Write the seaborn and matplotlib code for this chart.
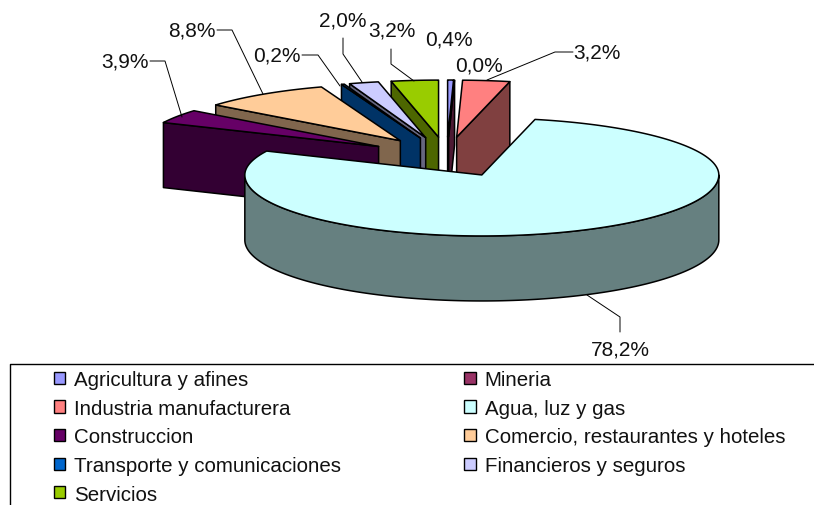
import numpy as np
import matplotlib
matplotlib.use("Agg")
import matplotlib.pyplot as plt
from matplotlib.patches import Patch
import seaborn as sns

categories = ["Agricultura y afines", "Mineria", "Industria manufacturera", "Agua, luz y gas",
              "Construccion", "Comercio, restaurantes y hoteles", "Transporte y comunicaciones",
              "Financieros y seguros", "Servicios"]
values = [0.4, 0.0, 3.2, 78.2, 3.9, 8.8, 0.2, 2.0, 3.2]
colors = ["#9999FF", "#993366", "#FF8080", "#CCFFFF", "#660066", "#FFCC99", "#0066CC", "#CCCCFF", "#99CC00"]

sns.set_theme(style="white")
plt.rcParams["font.family"] = ["Liberation Sans", "DejaVu Sans"]

W, H = 814, 506
fig = plt.figure(figsize=(W / 100, H / 100), dpi=100)
ax = fig.add_axes([0, 0, 1, 1])
ax.set_xlim(0, W)
ax.set_ylim(H, 0)
ax.axis("off")

# Pie projection, in pixels of the axes
CX, CY = 446.6, 158.0
RX, RY_FRONT, RY_BACK = 237.0, 61.0, 57.0
EXPLODE_X, EXPLODE_Y = 80.0, 20.0
DEPTH = 65.0
LW = 1.1


def project(apex, t):
    t = np.asarray(t, dtype=float)
    ry = np.where(np.cos(t) > 0, RY_BACK, RY_FRONT)
    return apex[0] + RX * np.sin(t), apex[1] - ry * np.cos(t)


def darker(c):
    return tuple(v * 0.5 for v in matplotlib.colors.to_rgb(c))


total = sum(values)
ends = np.cumsum(values) / total * 2 * np.pi
starts = np.concatenate([[0.0], ends[:-1]])


def draw_slice(i):
    t0, t1 = starts[i], ends[i]
    mid = (t0 + t1) / 2
    apex = (CX + EXPLODE_X * np.sin(mid), CY - EXPLODE_Y * np.cos(mid))
    side = darker(colors[i])
    kw = dict(edgecolor="black", linewidth=LW, joinstyle="round")
    # Radial walls facing the viewer
    for t, visible in ((t0, np.sin(t0) < -1e-6), (t1, np.sin(t1) > 1e-6)):
        if visible:
            x, y = project(apex, t)
            ax.fill([apex[0], x, x, apex[0]], [apex[1], y, y + DEPTH, apex[1] + DEPTH],
                    facecolor=side, **kw)
    # Outer rim on the front half
    a, b = max(t0, np.pi / 2), min(t1, 3 * np.pi / 2)
    if b > a:
        ts = np.linspace(a, b, 200)
        x, y = project(apex, ts)
        ax.fill(np.r_[x, x[::-1]], np.r_[y, (y + DEPTH)[::-1]], facecolor=side, **kw)
    # Top face
    ts = np.linspace(t0, t1, 200)
    x, y = project(apex, ts)
    ax.fill(np.r_[apex[0], x], np.r_[apex[1], y], facecolor=colors[i], **kw)


for i in (0, 1, 2, 8, 7, 6, 5, 4, 3):
    draw_slice(i)


def pct(v):
    return f"{v:.1f}%".replace(".", ",")


# Label centre and leader line for every slice
label_pos = {0: (449, 40), 1: (479, 66), 2: (597, 53), 3: (620, 350), 4: (125, 62),
             5: (192, 31), 6: (277, 56), 7: (343, 21), 8: (392, 31)}
leaders = {2: [(573, 53), (555, 53), (487, 81)],
           3: [(620, 333), (620, 318), (587, 296)],
           4: [(150, 62), (165, 62), (182, 118)],
           5: [(217, 31), (232, 31), (263, 95)],
           6: [(302, 56), (318, 56), (340, 87)],
           7: [(343, 39), (343, 55), (362, 83)],
           8: [(391, 50), (391, 65), (414, 82)]}
for i, (x, y) in label_pos.items():
    ax.text(x, y, pct(values[i]), ha="center", va="center", fontsize=15, color="#111111")
for pts in leaders.values():
    xs, ys = zip(*pts)
    ax.plot(xs, ys, color="black", lw=0.7)

# Legend: box open at the right and bottom, as it runs off the picture
ax.plot([W, 10, 10], [365, 365, H], color="black", lw=1.0, clip_on=False)
order = [0, 2, 4, 6, 8, 1, 3, 5, 7]
handles = [Patch(facecolor=colors[i], edgecolor="black", linewidth=1.0) for i in order]
leg = ax.legend(handles, [categories[i] for i in order], ncol=2, frameon=False,
                loc="upper left", bbox_to_anchor=(54, 371), bbox_transform=ax.transData,
                fontsize=14.8, handlelength=0.54, handleheight=0.54, handletextpad=0.44,
                labelspacing=0.47, columnspacing=6.0, borderpad=0, borderaxespad=0)
for t in leg.get_texts():
    t.set_color("#111111")

fig.savefig("out.png", dpi=100)
